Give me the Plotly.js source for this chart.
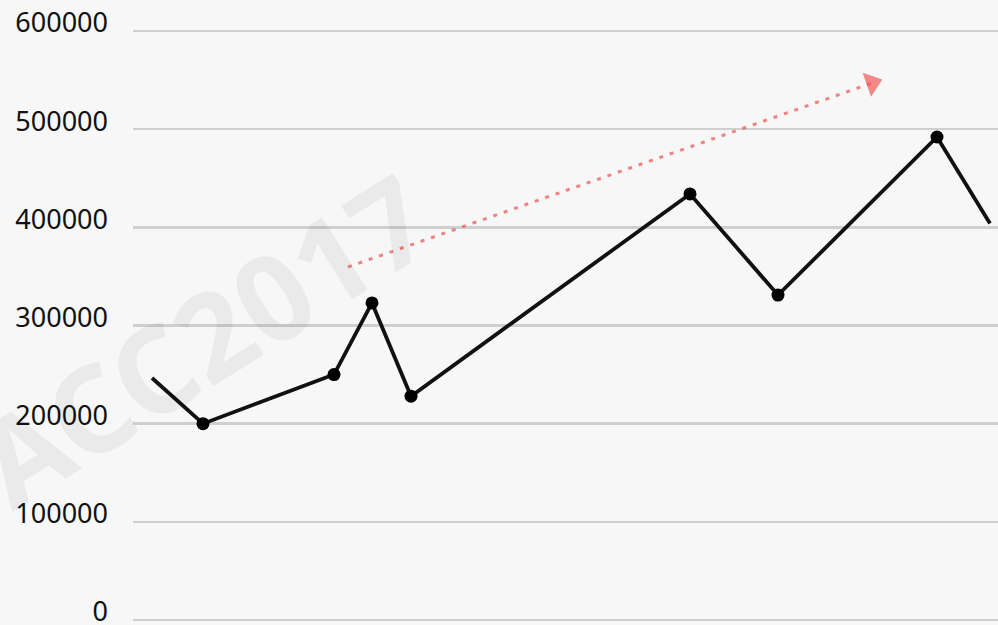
<!DOCTYPE html>
<html>
<head>
<meta charset="utf-8">
<script src="https://cdn.plot.ly/plotly-3.0.1.min.js"></script>
<style>
  html, body { margin: 0; padding: 0; background: #f7f7f7; }
  #chart { width: 998px; height: 625px; }
</style>
</head>
<body>
<div id="chart"></div>
<script>
// Series (x in arbitrary time units, y in value units)
const seriesX = [19, 70, 201, 239, 278, 557, 645, 804, 857];
const seriesY = [246500, 200000, 250000, 323000, 228000, 434000, 331000, 492000, 404000];
const markerShown = [false, true, true, true, true, true, true, true, false];

// Trend arrow (start, end)
const trendX = [215, 739];
const trendY = [359600, 547000];

// Axis ticks
const yTicks = [0, 100000, 200000, 300000, 400000, 500000, 600000];
const yTickLabels = ['0', '100000', '200000', '300000', '400000', '500000', '600000'];

const watermark = 'ACC2017';

const traces = [
  {
    x: seriesX,
    y: seriesY,
    type: 'scatter',
    mode: 'lines',
    line: { color: '#111111', width: 3.8 },
    cliponaxis: false,
    hoverinfo: 'none',
    showlegend: false
  },
  {
    x: seriesX.filter((v, i) => markerShown[i]),
    y: seriesY.filter((v, i) => markerShown[i]),
    type: 'scatter',
    mode: 'markers',
    opacity: 1,
    marker: { color: '#000000', size: 13, opacity: 1, line: { width: 0 } },
    cliponaxis: false,
    hoverinfo: 'none',
    showlegend: false
  },
  {
    x: trendX,
    y: trendY,
    type: 'scatter',
    mode: 'lines',
    line: { color: 'rgba(238,80,80,0.7)', width: 3, dash: '4px,7px' },
    cliponaxis: false,
    hoverinfo: 'none',
    showlegend: false
  },
  {
    x: trendX,
    y: trendY,
    type: 'scatter',
    mode: 'markers',
    marker: {
      color: 'rgba(240,80,80,0.95)',
      size: [0, 22],
      symbol: 'triangle-up',
      angleref: 'previous',
      angle: 0,
      line: { width: 0 }
    },
    cliponaxis: false,
    hoverinfo: 'none',
    showlegend: false
  }
];

const layout = {
  width: 998,
  height: 625,
  margin: { l: 133, r: 0, t: 26, b: 0 },
  paper_bgcolor: '#f7f7f7',
  plot_bgcolor: '#f7f7f7',
  showlegend: false,
  font: { family: 'Noto Sans, sans-serif', color: '#111111' },
  xaxis: {
    range: [0, 865],
    showgrid: false,
    zeroline: false,
    showline: false,
    showticklabels: false,
    ticks: ''
  },
  yaxis: {
    range: [-5093, 605093],
    tickvals: yTicks,
    ticktext: yTickLabels,
    showgrid: true,
    gridcolor: '#cfcfcf',
    gridwidth: 2.5,
    zeroline: false,
    showline: false,
    ticks: '',
    ticklabelstandoff: 24,
    ticklabelshift: -8,
    ticklabeloverflow: 'allow',
    tickfont: { family: 'Noto Sans, sans-serif', size: 27, color: '#111111' }
  },
  annotations: [
    {
      text: '<b>' + watermark + '</b>',
      xref: 'paper',
      yref: 'paper',
      x: 0.080,
      y: 0.478,
      xanchor: 'center',
      yanchor: 'middle',
      showarrow: false,
      textangle: -32,
      font: { family: 'Noto Sans, sans-serif', size: 120, color: 'rgba(0,0,0,0.05)' }
    }
  ]
};

Plotly.newPlot('chart', traces, layout, { displayModeBar: false, staticPlot: true });
</script>
</body>
</html>
